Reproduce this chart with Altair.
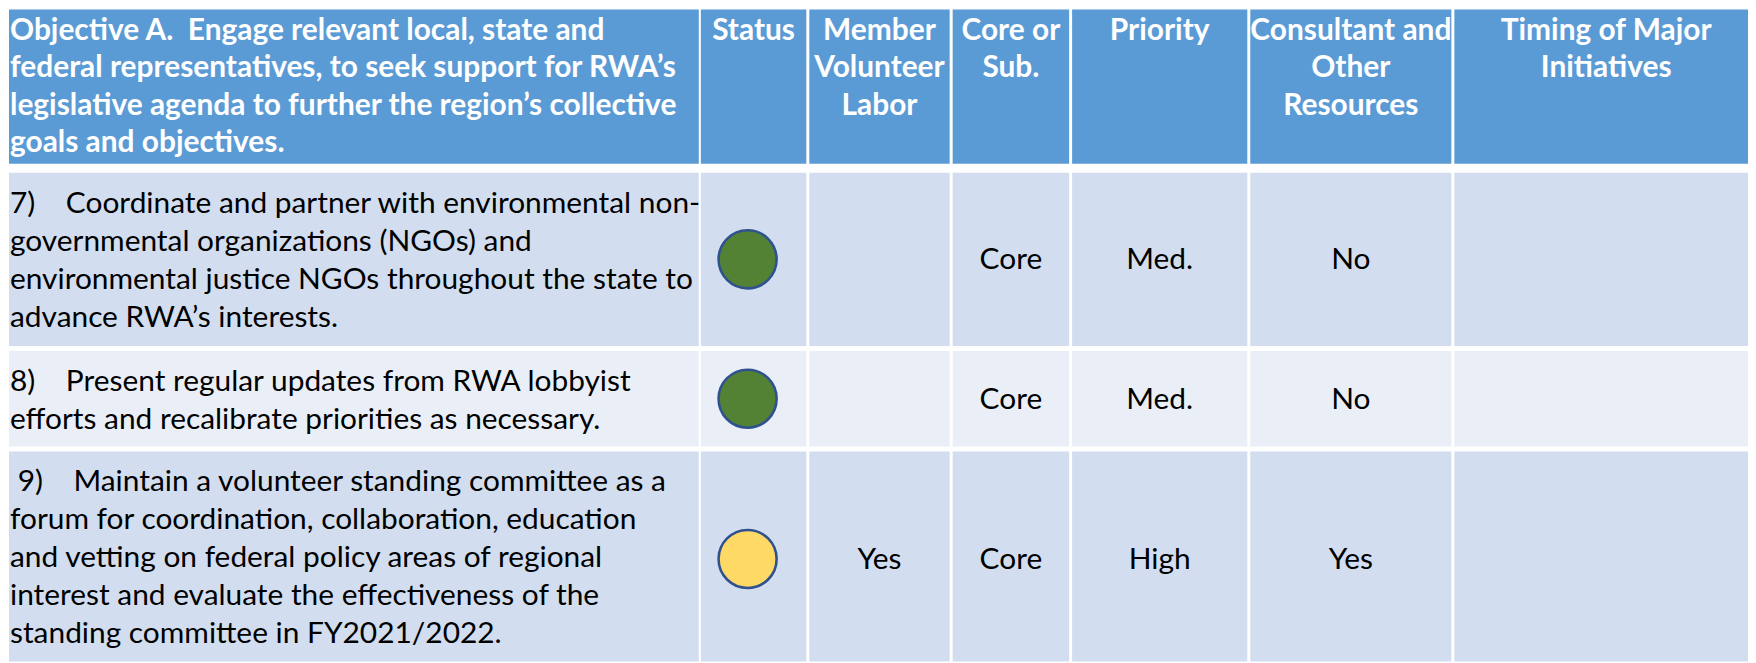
import altair as alt
import pandas as pd

# ---------------- data ----------------
header_labels = [
    "Objective A.\u00a0 Engage relevant local, state and\nfederal representatives, to seek support for RWA\u2019s\nlegislative agenda to further the region\u2019s collective\ngoals and objectives.",
    "Status",
    "Member\nVolunteer\nLabor",
    "Core or\nSub.",
    "Priority",
    "Consultant and\nOther\nResources",
    "Timing of Major\nInitiatives",
]
task_numbers = ["7)", "8)", "\u200b\u00a09)"]
task_texts = [
    "Coordinate and partner with environmental non-\ngovernmental organizations (NGOs) and\nenvironmental justice NGOs throughout the state to\nadvance RWA\u2019s interests.",
    "Present regular updates from RWA lobbyist\nefforts and recalibrate priorities as necessary.",
    "Maintain a volunteer standing committee as a\nforum for coordination, collaboration, education\nand vetting on federal policy areas of regional\ninterest and evaluate the effectiveness of the\nstanding committee in FY2021/2022.",
]
status = ["Green", "Green", "Yellow"]
member_labor = ["", "", "Yes"]
core_or_sub = ["Core", "Core", "Core"]
priority = ["Med.", "Med.", "High"]
consultant = ["No", "No", "Yes"]
timing = ["", "", ""]

# ---------------- layout (pixels) ----------------
COL_EDGES = [(9, 702), (704, 810), (813, 954), (957, 1074), (1077, 1253), (1256, 1458), (1461, 1766)]
ROW_EDGES = [(6, 163), (172, 346), (351, 447), (452, 668)]
ROW_KIND = ["header", "band1", "band2", "band1"]
FONT = "Lato"
HEAD_SIZE = 30
BODY_SIZE = 30
HEAD_LH = 37.5
BODY_LH = 38.2
TAB = "\u00a0" * 4

# cells
cells = []
for r, (y0, y1) in enumerate(ROW_EDGES):
    for c, (x0, x1) in enumerate(COL_EDGES):
        cells.append({"x": x0, "x2": x1, "y": y0, "y2": y1, "kind": ROW_KIND[r]})
cells = pd.DataFrame(cells)

# header texts
heads = []
for c, lab in enumerate(header_labels):
    x0, x1 = COL_EDGES[c]
    heads.append({"x": x0 + 1 if c == 0 else (x0 + x1) / 2,
                  "y": ROW_EDGES[0][0] + 32.5, "t": lab,
                  "al": "left" if c == 0 else "center"})
heads = pd.DataFrame(heads)
head_left = heads[heads.al == "left"]
head_center = heads[heads.al == "center"]

# task texts
tasks = []
for i in range(3):
    y0, y1 = ROW_EDGES[i + 1]
    tasks.append({"x": COL_EDGES[0][0] + 1, "y": y0 + 40,
                  "t": task_numbers[i] + TAB + task_texts[i]})
tasks = pd.DataFrame(tasks)

# value texts
vals = []
cols_vals = [member_labor, core_or_sub, priority, consultant, timing]
for i in range(3):
    y0, y1 = ROW_EDGES[i + 1]
    yc = (y0 + y1) / 2
    for k, arr in enumerate(cols_vals):
        x0, x1 = COL_EDGES[k + 2]
        if arr[i]:
            vals.append({"x": (x0 + x1) / 2, "y": yc + 10, "t": arr[i]})
vals = pd.DataFrame(vals)

# status circles
circ = []
for i in range(3):
    y0, y1 = ROW_EDGES[i + 1]
    x0, x1 = COL_EDGES[1]
    circ.append({"x": (x0 + x1) / 2 - 6, "y": (y0 + y1) / 2, "s": status[i]})
circ = pd.DataFrame(circ)

xs = alt.Scale(domain=[8, 1756], nice=False, zero=False)
ys = alt.Scale(domain=[8, 663], nice=False, zero=False, reverse=True)
X = lambda f="x": alt.X(f"{f}:Q", scale=xs, axis=None)
Y = lambda f="y": alt.Y(f"{f}:Q", scale=ys, axis=None)

rects = alt.Chart(cells).mark_rect(clip=True).encode(
    x=X(), x2="x2:Q", y=Y(), y2="y2:Q",
    fill=alt.Fill("kind:N", scale=alt.Scale(domain=["header", "band1", "band2"],
                                            range=["#5B9BD5", "#D2DEEF", "#EAEFF7"]), legend=None),
)

head_l = alt.Chart(head_left).mark_text(
    align="left", baseline="alphabetic", font=FONT, fontSize=HEAD_SIZE, fontWeight="bold",
    color="white", lineBreak="\n", lineHeight=HEAD_LH, clip=True
).encode(x=X(), y=Y(), text="t:N")

head_c = alt.Chart(head_center).mark_text(
    align="center", baseline="alphabetic", font=FONT, fontSize=HEAD_SIZE, fontWeight="bold",
    color="white", lineBreak="\n", lineHeight=HEAD_LH, clip=True
).encode(x=X(), y=Y(), text="t:N")

task_t = alt.Chart(tasks).mark_text(
    align="left", baseline="alphabetic", font=FONT, fontSize=BODY_SIZE,
    color="black", lineBreak="\n", lineHeight=BODY_LH, clip=True
).encode(x=X(), y=Y(), text="t:N")

val_t = alt.Chart(vals).mark_text(
    align="center", baseline="alphabetic", font=FONT, fontSize=BODY_SIZE, color="black", clip=True
).encode(x=X(), y=Y(), text="t:N")

dots = alt.Chart(circ).mark_point(
    shape="circle", filled=True, size=3400, stroke="#2F528F", strokeWidth=2.6, opacity=1, fillOpacity=1
).encode(
    x=X(), y=Y(),
    fill=alt.Fill("s:N", scale=alt.Scale(domain=["Green", "Yellow"], range=["#548235", "#FFD966"]), legend=None),
)

chart = alt.layer(rects, head_l, head_c, task_t, val_t, dots).resolve_scale(
    fill="independent"
).properties(
    width=1748, height=655, padding=0, autosize=alt.AutoSizeParams(type="none"),
    background="white",
).configure_view(stroke=None)

chart.save("out.html", embed_options={"renderer": "svg", "actions": False})
